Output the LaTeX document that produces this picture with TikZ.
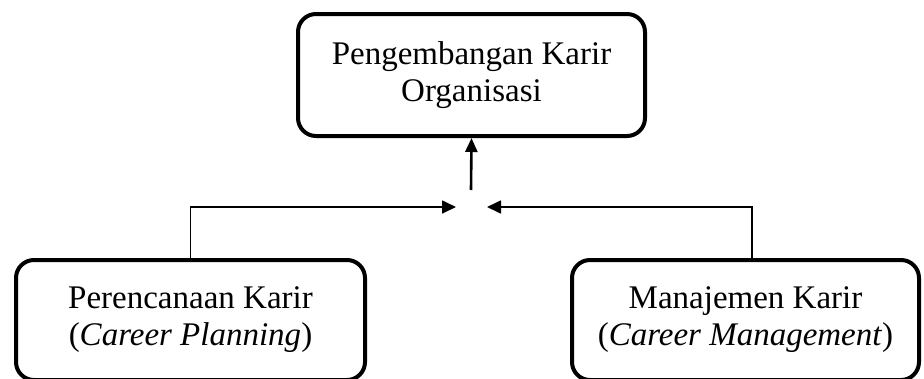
\documentclass[tikz,border=0pt]{standalone}
\usepackage{fontspec}
\setmainfont{Liberation Serif}
\usepackage{tikz}
\usetikzlibrary{positioning,arrows.meta}

\begin{document}
\begin{tikzpicture}[x=1pt, y=-1pt,
    box/.style={draw, line width=4pt, rounded corners=18pt, align=center,
                font=\fontsize{33}{37}\selectfont, inner sep=0pt},
    link/.style={line width=1.7pt, -{Triangle[length=14pt,width=13pt]}},
    uplink/.style={line width=2.6pt, -{Triangle[length=14pt,width=12pt]}}]
  \useasboundingbox (0,0) rectangle (924,378);
  % boxes
  \node[box, minimum width=347pt, minimum height=122pt] (org)  at (471.5,75)  {Pengembangan Karir\\Organisasi};
  \node[box, minimum width=349pt, minimum height=120pt] (plan) at (190.5,320) {Perencanaan Karir\\(\textit{Career Planning})};
  \node[box, minimum width=347pt, minimum height=120pt] (mgmt) at (745.5,320) {Manajemen Karir\\(\textit{Career Management})};
  % junction points
  \coordinate (jleft)  at (456,207);
  \coordinate (jright) at (487,207);
  \coordinate (jup)    at (471,190);
  \draw[link] (plan.north) |- (jleft);
  \draw[link] ([xshift=6.5pt]mgmt.north) |- (jright);
  \draw[uplink] (jup) -- (org.south);
\end{tikzpicture}
\end{document}
